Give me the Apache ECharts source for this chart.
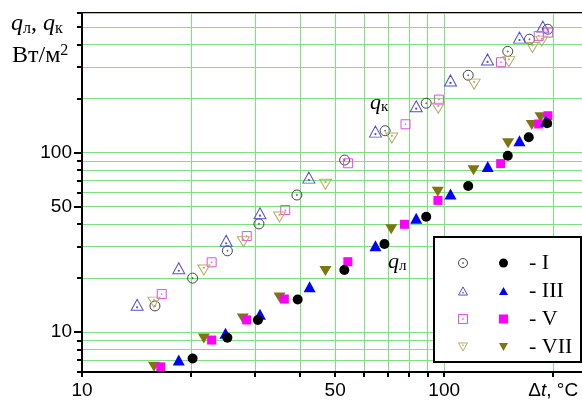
<!DOCTYPE html>
<html>
<head>
<meta charset="utf-8">
<script src="https://cdn.jsdelivr.net/npm/echarts@6/dist/echarts.min.js"></script>
<style>
html, body { margin: 0; padding: 0; background: #fff; }
#chart { width: 582px; height: 401px; }
</style>
</head>
<body>
<div id="chart"></div>
<script>
// Δt, °C and heat flux q, W/m2 ; open markers = q_к, filled markers = q_л
const dtKI = [15.9, 20.2, 25.2, 30.8, 39.2, 53.1, 68.7, 89.2, 116.5, 149.8, 172.0, 193.2]
const qKI = [14.0, 20.0, 28.4, 40.1, 58.1, 91.0, 132.5, 188.6, 270.0, 366.6, 428.7, 487.3]
const dtKIII = [14.2, 18.5, 25.0, 31.0, 42.3, 64.6, 83.7, 104.1, 131.7, 161.4, 187.2]
const qKIII = [14.2, 22.7, 32.3, 46.0, 72.6, 131.0, 181.4, 252.6, 330.4, 437.5, 503.9]
const dtKV = [16.6, 22.8, 28.5, 36.4, 54.3, 78.2, 96.7, 143.5, 182.4, 193.7]
const qKV = [16.3, 24.5, 34.3, 47.9, 87.3, 144.0, 197.5, 319.1, 447.2, 466.6]
const dtKVII = [15.8, 21.7, 27.9, 35.1, 47.0, 71.7, 96.3, 121.0, 150.8, 175.3, 186.0]
const qKVII = [14.7, 22.2, 31.9, 43.8, 66.7, 120.8, 176.8, 240.9, 321.5, 385.8, 418.4]

const dtLI = [20.2, 25.2, 30.6, 39.4, 53.0, 68.4, 89.2, 116.5, 149.8, 171.2, 192.4]
const qLI = [7.14, 9.31, 11.7, 15.2, 22.2, 31.0, 44.0, 65.2, 96.2, 121.8, 145.8]
const dtLIII = [18.5, 24.9, 31.0, 42.5, 64.6, 83.7, 104.1, 131.9, 161.4, 191.0]
const qLIII = [6.99, 9.85, 12.6, 17.9, 30.3, 43.1, 58.9, 83.8, 116.7, 150.2]
const dtLV = [16.5, 22.8, 28.5, 36.2, 54.2, 77.7, 96.1, 143.2, 182.3, 193.4]
const qLV = [6.41, 9.04, 11.7, 15.3, 24.7, 39.9, 54.2, 86.9, 144.5, 160.6]
const dtLVII = [15.8, 21.7, 27.8, 35.1, 47.0, 71.4, 96.0, 120.5, 150.1, 174.5, 184.5]
const qLVII = [6.41, 9.23, 11.9, 15.6, 21.9, 37.4, 60.6, 79.9, 112.8, 142.7, 157.5]

const xTicks = [10, 20, 30, 40, 50, 60, 70, 80, 90, 100, 200, 300]
const xLabels = [10, 50, 100, 200]
const yTicks = [6, 7, 8, 9, 10, 20, 30, 40, 50, 60, 70, 80, 90, 100, 200, 300, 400, 500, 600]
const yLabels = [10, 50, 100]

const zip = (xs, ys) => xs.map((x, i) => [x, ys[i]])

const dot = (cy) => 'M1,' + cy + 'A1,1,0,1,1,-1,' + cy + 'A1,1,0,1,1,1,' + cy + 'Z'
const sym = {
  circle: 'path://M10,0A10,10,0,1,1,-10,0A10,10,0,1,1,10,0Z',
  tri: 'path://M0,-10L10,8L-10,8Z',
  rect: 'path://M-10,-10L10,-10L10,10L-10,10Z',
  inv: 'path://M-10,-8L10,-8L0,10Z'
}
const symDot = {
  circle: sym.circle + dot(0),
  tri: sym.tri + dot(3),
  rect: sym.rect + dot(0),
  inv: sym.inv + dot(-3)
}

const openSeries = (name, data, s, size, color) => ({
  name, type: 'scatter', data, symbol: symDot[s], symbolSize: size,
  itemStyle: { color: 'rgba(0,0,0,0)', borderColor: color, borderWidth: 1, opacity: 1 }
})
const fillSeries = (name, data, s, size, color) => ({
  name, type: 'scatter', data, symbol: sym[s], symbolSize: size,
  itemStyle: { color, opacity: 1 }
})

const chart = echarts.init(document.getElementById('chart'))

const axisFont = { fontFamily: 'Liberation Sans', fontSize: 19, color: '#000' }

chart.setOption({
  animation: false,
  grid: {
    left: 82, top: 13, width: 535, height: 359, outerBoundsMode: 'none', containLabel: false,
    show: true, borderColor: '#000', borderWidth: 2, backgroundColor: 'transparent'
  },
  xAxis: [{
    type: 'log', min: 10, max: 300,
    axisLine: { lineStyle: { color: '#000', width: 2 } },
    axisTick: { customValues: xTicks, length: 5, lineStyle: { color: '#000', width: 2 } },
    axisLabel: {
      customValues: xLabels, margin: 9, ...axisFont,
      formatter: v => v === 200 ? '{n|Δ}{i|t}{n|, °C}' : String(v),
      rich: {
        n: { fontFamily: 'Liberation Sans', fontSize: 19, color: '#000' },
        i: { fontFamily: 'Liberation Sans', fontSize: 19, fontStyle: 'italic', color: '#000' }
      }
    },
    splitLine: { show: true, lineStyle: { color: '#80e080', width: 1 } },
    minorTick: { show: false }
  }],
  yAxis: [{
    type: 'log', min: 6, max: 600,
    axisLine: { lineStyle: { color: '#000', width: 2 } },
    axisTick: { customValues: yTicks, length: 5, lineStyle: { color: '#000', width: 2 } },
    axisLabel: { customValues: yLabels, margin: 10, ...axisFont },
    splitLine: { show: true, lineStyle: { color: '#80e080', width: 1 } }
  }, {
    type: 'log', min: 6, max: 600, position: 'left',
    axisLine: { show: false },
    axisTick: { customValues: yLabels, length: 8, lineStyle: { color: '#000', width: 2 } },
    axisLabel: { show: false },
    splitLine: { show: false }
  }],
  legend: [{
    left: 458, top: 252, orient: 'vertical', itemGap: 6, itemWidth: 9, itemHeight: 9, padding: 0,
    data: ['qк I', 'qк III', 'qк V', 'qк VII'],
    formatter: () => ' ',
    textStyle: { fontFamily: 'Liberation Serif', fontSize: 22, lineHeight: 20 },
    itemStyle: { borderWidth: 1 }
  }, {
    left: 499, top: 252, orient: 'vertical', itemGap: 6, itemWidth: 9, itemHeight: 9, padding: 0,
    data: ['qл I', 'qл III', 'qл V', 'qл VII'],
    formatter: name => '{t|- ' + name.split(' ')[1] + '}',
    textStyle: {
      fontFamily: 'Liberation Serif', fontSize: 22, lineHeight: 20, color: '#000',
      rich: { t: { fontFamily: 'Liberation Serif', fontSize: 22, lineHeight: 20, color: '#000', padding: [0, 0, 0, 16] } }
    }
  }],
  graphic: [
    { type: 'rect', z: 3, shape: { x: 434, y: 237, width: 147, height: 125 },
      style: { fill: '#fff', stroke: '#000', lineWidth: 2 } },
    { type: 'text', left: 11, top: 12, z: 5, style: {
      text: '{q|q}{s|л}{n|, }{q|q}{s|к}',
      rich: {
        q: { fontFamily: 'Liberation Serif', fontSize: 24, fontStyle: 'italic', fill: '#000' },
        s: { fontFamily: 'Liberation Serif', fontSize: 16, fill: '#000', padding: [10, 0, 0, 0] },
        n: { fontFamily: 'Liberation Serif', fontSize: 24, fill: '#000' }
      } } },
    { type: 'text', left: 12, top: 43, z: 5, style: {
      text: '{n|Вт/м}{p|2}',
      rich: {
        n: { fontFamily: 'Liberation Serif', fontSize: 24, fill: '#000' },
        p: { fontFamily: 'Liberation Serif', fontSize: 16, fill: '#000', padding: [0, 0, 10, 0] }
      } } },
    { type: 'text', left: 370, top: 92, z: 5, style: {
      text: '{q|q}{s|к}',
      rich: {
        q: { fontFamily: 'Liberation Serif', fontSize: 22, fontStyle: 'italic', fill: '#000' },
        s: { fontFamily: 'Liberation Serif', fontSize: 15, fill: '#000', padding: [9, 0, 0, 0] }
      } } },
    { type: 'text', left: 388, top: 251, z: 5, style: {
      text: '{q|q}{s|л}',
      rich: {
        q: { fontFamily: 'Liberation Serif', fontSize: 22, fontStyle: 'italic', fill: '#000' },
        s: { fontFamily: 'Liberation Serif', fontSize: 15, fill: '#000', padding: [9, 0, 0, 0] }
      } } }
  ],
  series: [
    openSeries('qк I', zip(dtKI, qKI), 'circle', 10, '#444'),
    openSeries('qк III', zip(dtKIII, qKIII), 'tri', [12, 11], '#5050d0'),
    openSeries('qк V', zip(dtKV, qKV), 'rect', 9, '#e050e0'),
    openSeries('qк VII', zip(dtKVII, qKVII), 'inv', [12, 10], '#b5ad6a'),
    fillSeries('qл VII', zip(dtLVII, qLVII), 'inv', [12, 10], '#7b7610'),
    fillSeries('qл V', zip(dtLV, qLV), 'rect', 9, '#ff00ff'),
    fillSeries('qл III', zip(dtLIII, qLIII), 'tri', [12, 11], '#0000ff'),
    fillSeries('qл I', zip(dtLI, qLI), 'circle', 10, '#000')
  ]
})
</script>
</body>
</html>
